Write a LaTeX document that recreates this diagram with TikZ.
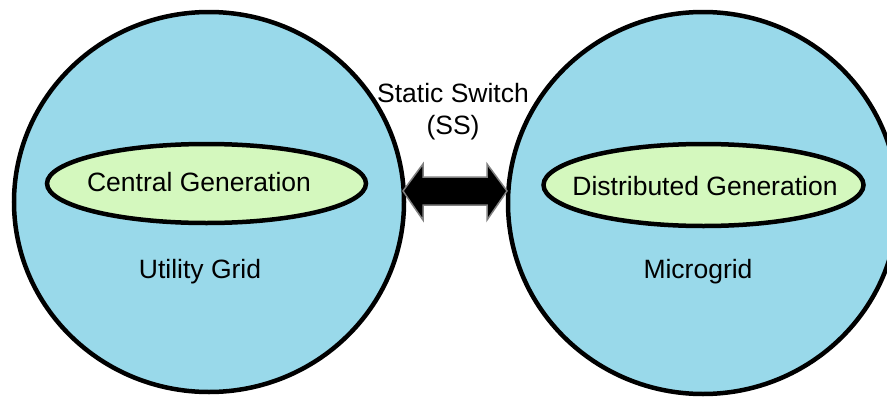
\documentclass[tikz,border=0pt]{standalone}
\usepackage{fontspec}
\setmainfont{Liberation Sans}
\usetikzlibrary{shapes.geometric}
\definecolor{gridblue}{RGB}{153,217,234}
\definecolor{genGreen}{RGB}{212,248,190}
\definecolor{arrowgray}{RGB}{128,128,128}
\tikzset{
  outer/.style={ellipse, draw=black, line width=4.5pt, fill=gridblue, inner sep=0pt},
  inner/.style={ellipse, draw=black, line width=4.5pt, fill=genGreen, inner sep=0pt},
  lbl/.style={inner sep=0pt, font=\fontsize{26.5}{32}\selectfont, text=black, align=center}
}
\begin{document}
\begin{tikzpicture}[x=1pt,y=-1pt]
\useasboundingbox (0,0) rectangle (887,399);
\clip (0,0) rectangle (887,399);
\fill[white] (0,0) rectangle (887,399);
\node[outer, minimum width=390pt, minimum height=380pt] (ug) at (209,202) {};
\node[outer, minimum width=390pt, minimum height=382pt] (mg) at (703,203) {};
\node[inner, minimum width=319pt, minimum height=79pt] (cg) at (206.5,183.5) {};
\node[inner, minimum width=320pt, minimum height=82pt] (dg) at (703.5,185) {};
\node[lbl] (cgt) at (199,182) {Central Generation};
\node[lbl] (dgt) at (705,186) {Distributed Generation};
\node[lbl] (ugt) at (200,272) {Utility Grid};
\node[lbl] (mgt) at (698,272) {Microgrid};
\node[lbl] (ss) at (453,112) {Static Switch\\(SS)};
\coordinate (ssl) at (403,191);
\coordinate (ssr) at (507,191);
\draw[fill=black, draw=arrowgray, line width=1.5pt, line join=miter]
  (ssl) -- (423,164) -- (423,177) -- (487,177) -- (487,164) -- (ssr)
  -- (487,220) -- (487,205) -- (423,205) -- (423,220) -- cycle;
\end{tikzpicture}
\end{document}
